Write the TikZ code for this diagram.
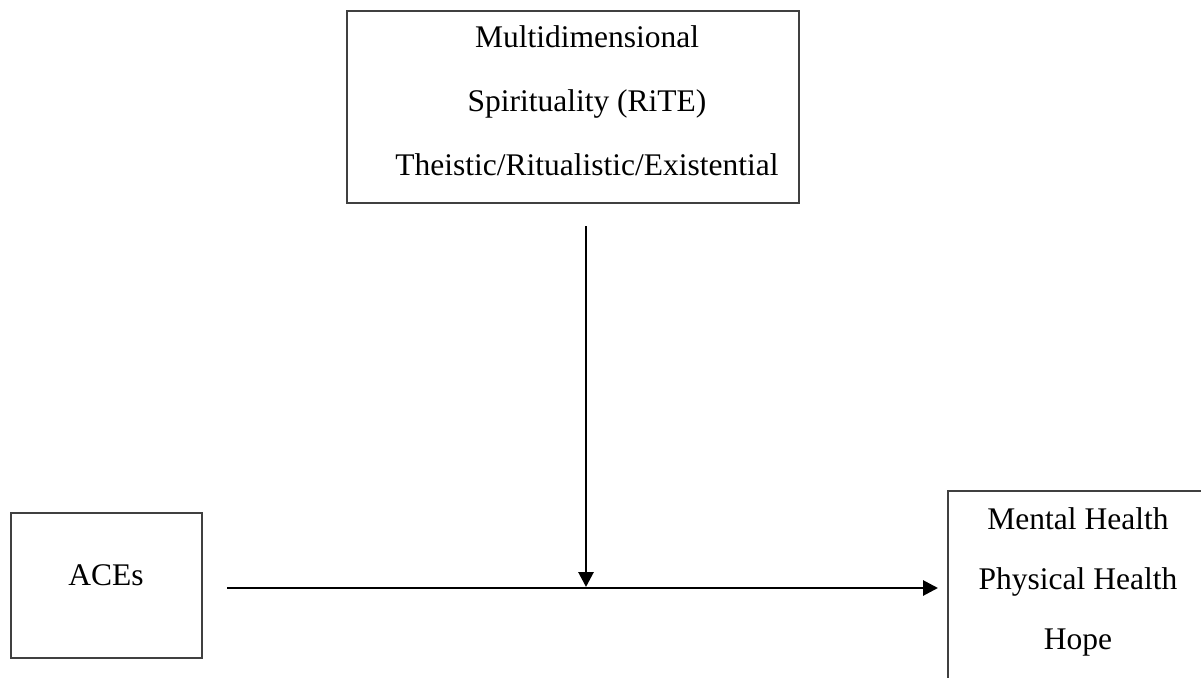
\documentclass[tikz,border=0pt]{standalone}
\usepackage{fontspec}
\setmainfont{Liberation Serif}
\usetikzlibrary{arrows.meta}
\begin{document}
\begin{tikzpicture}[x=1pt,y=-1pt,
  box/.style={draw=black!75, line width=1.5pt, fill=none, inner sep=0pt},
  label/.style={font=\fontsize{31.5}{64}\selectfont, align=center, inner sep=0pt, anchor=base},
  link/.style={line width=2.8pt, -{Triangle[length=15pt,width=15pt]}}]
  \useasboundingbox (0,0) rectangle (1201,677);
  \clip (0,0) rectangle (1201,677);
  \fill[white] (0,0) rectangle (1201,677);

  % moderator box (label anchored at the baseline of its last line)
  \node (modbox) [box, minimum width=452pt, minimum height=192pt] at (573,107) {};
  \node (modtext) [label] at (587,175) {Multidimensional\\Spirituality (RiTE)\\Theistic/Ritualistic/Existential};

  % predictor box
  \node (acebox) [box, minimum width=191pt, minimum height=145pt] at (106.5,585.5) {};
  \node (acetext) [label] at (106,585) {ACEs};

  % outcome box (runs past the right and bottom edges)
  \node (outbox) [box, minimum width=270pt, minimum height=230pt, anchor=north west] at (947,490) {};
  \node (outtext) [label, font=\fontsize{31.5}{60}\selectfont] at (1078,649) {Mental Health\\Physical Health\\Hope};

  % paths
  \coordinate (pathstart) at (227,588);
  \coordinate (modstart) at (586,226);
  \coordinate (modend) at (586,587);
  \draw[link] (pathstart) -- ([xshift=-9pt]pathstart -| outbox.west);
  \draw[link] (modstart) -- (modend);
\end{tikzpicture}
\end{document}
